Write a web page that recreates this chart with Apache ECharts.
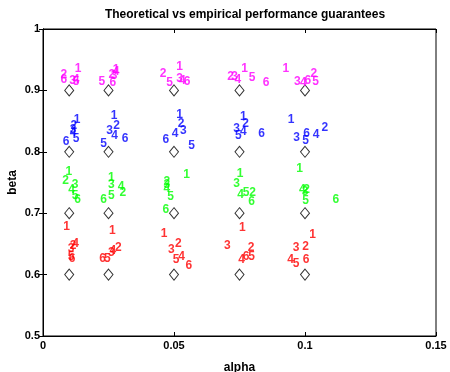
<!DOCTYPE html>
<html>
<head>
<meta charset="utf-8">
<script src="https://cdn.jsdelivr.net/npm/echarts@6/dist/echarts.min.js"></script>
<style>html,body{margin:0;padding:0;background:#fff;}#c{width:450px;height:372px;}</style>
</head>
<body>
<div id="c"></div>
<script>
// Theoretical guarantee grid (diamonds)
var alphas = [0.01, 0.025, 0.05, 0.075, 0.1];
var betas = [0.6, 0.7, 0.8, 0.9];
var xTicks = [0, 0.05, 0.1, 0.15];
var yTicks = [0.5, 0.6, 0.7, 0.8, 0.9, 1];

// Empirical results: [alpha, beta, label]
var beta09 = [
  [0.0134,0.9349,'1'],[0.0080,0.9259,'2'],[0.0113,0.9153,'3'],[0.0126,0.9169,'4'],[0.0126,0.9137,'5'],[0.0080,0.9178,'6'],
  [0.0279,0.9332,'1'],[0.0263,0.9251,'2'],[0.0271,0.9235,'3'],[0.0279,0.9300,'4'],[0.0225,0.9137,'5'],[0.0267,0.9121,'6'],
  [0.0521,0.9381,'1'],[0.0458,0.9267,'2'],[0.0521,0.9194,'3'],[0.0532,0.9161,'4'],[0.0483,0.9121,'5'],[0.0550,0.9145,'6'],
  [0.0769,0.9357,'1'],[0.0716,0.9226,'2'],[0.0731,0.9226,'3'],[0.0744,0.9178,'4'],[0.0798,0.9210,'5'],[0.0851,0.9121,'6'],
  [0.0927,0.9349,'1'],[0.1034,0.9267,'2'],[0.0971,0.9137,'3'],[0.0994,0.9121,'4'],[0.1040,0.9137,'5'],[0.1011,0.9153,'6']
];
var beta08 = [
  [0.0130,0.8518,'1'],[0.0118,0.8420,'2'],[0.0115,0.8355,'3'],[0.0115,0.8306,'4'],[0.0126,0.8208,'5'],[0.0088,0.8160,'6'],
  [0.0271,0.8583,'1'],[0.0281,0.8428,'2'],[0.0254,0.8347,'3'],[0.0273,0.8257,'4'],[0.0231,0.8135,'5'],[0.0313,0.8208,'6'],
  [0.0521,0.8599,'1'],[0.0527,0.8453,'2'],[0.0536,0.8339,'3'],[0.0504,0.8290,'4'],[0.0567,0.8094,'5'],[0.0469,0.8192,'6'],
  [0.0765,0.8575,'1'],[0.0773,0.8461,'2'],[0.0739,0.8371,'3'],[0.0765,0.8322,'4'],[0.0746,0.8257,'5'],[0.0834,0.8290,'6'],
  [0.0947,0.8518,'1'],[0.1076,0.8396,'2'],[0.0968,0.8233,'3'],[0.1042,0.8274,'4'],[0.1002,0.8176,'5'],[0.1006,0.8298,'6']
];
var beta07 = [
  [0.0099,0.7671,'1'],[0.0086,0.7524,'2'],[0.0122,0.7459,'3'],[0.0109,0.7378,'4'],[0.0122,0.7280,'5'],[0.0132,0.7215,'6'],
  [0.0261,0.7573,'1'],[0.0305,0.7329,'2'],[0.0261,0.7467,'3'],[0.0298,0.7435,'4'],[0.0261,0.7280,'5'],[0.0231,0.7223,'6'],
  [0.0548,0.7622,'1'],[0.0473,0.7508,'2'],[0.0473,0.7467,'3'],[0.0473,0.7402,'4'],[0.0487,0.7272,'5'],[0.0469,0.7060,'6'],
  [0.0752,0.7647,'1'],[0.0800,0.7337,'2'],[0.0739,0.7476,'3'],[0.0754,0.7296,'4'],[0.0775,0.7337,'5'],[0.0796,0.7191,'6'],
  [0.0979,0.7728,'1'],[0.1006,0.7386,'2'],[0.1000,0.7345,'3'],[0.0990,0.7378,'4'],[0.1002,0.7207,'5'],[0.1118,0.7215,'6']
];
var beta06 = [
  [0.0090,0.6775,'1'],[0.0115,0.6466,'2'],[0.0107,0.6417,'3'],[0.0124,0.6498,'4'],[0.0107,0.6287,'5'],[0.0111,0.6254,'6'],
  [0.0265,0.6718,'1'],[0.0288,0.6433,'2'],[0.0261,0.6352,'3'],[0.0267,0.6384,'4'],[0.0246,0.6254,'5'],[0.0227,0.6254,'6'],
  [0.0462,0.6661,'1'],[0.0517,0.6507,'2'],[0.0490,0.6401,'3'],[0.0529,0.6295,'4'],[0.0508,0.6246,'5'],[0.0557,0.6140,'6'],
  [0.0761,0.6759,'1'],[0.0794,0.6441,'2'],[0.0704,0.6466,'3'],[0.0758,0.6238,'4'],[0.0796,0.6287,'5'],[0.0775,0.6287,'6'],
  [0.1029,0.6645,'1'],[0.1002,0.6450,'2'],[0.0966,0.6441,'3'],[0.0945,0.6238,'4'],[0.0966,0.6173,'5'],[0.1004,0.6238,'6']
];

var diamonds = [];
alphas.forEach(function(a){ betas.forEach(function(b){ diamonds.push([a,b]); }); });

var font = 'Liberation Sans, Arial, sans-serif';
function labelSeries(data, color){
  return {
    type:'scatter', data:data, symbolSize:0, silent:true, z:5,
    label:{show:true, position:'inside', formatter:function(p){return p.data[2];},
      color:color, fontSize:12, fontWeight:'bold', fontFamily:font}
  };
}

var chart = echarts.init(document.getElementById('c'), null, {renderer:'canvas'});
chart.setOption({
  animation:false,
  backgroundColor:'#fff',
  title:{text:'Theoretical vs empirical performance guarantees', left:240, textAlign:'center', top:4,
    textStyle:{fontSize:12, fontWeight:'bold', color:'#000', fontFamily:font}},
  grid:{left:43, right:14, top:29, bottom:36, show:true, borderColor:'#000', borderWidth:1,
    containLabel:false, outerBoundsMode:'none'},
  xAxis:[{type:'value', min:xTicks[0], max:xTicks[xTicks.length-1], interval:0.05,
      name:'alpha', nameLocation:'middle', nameGap:26, nameMoveOverlap:false,
      nameTextStyle:{fontSize:12, fontWeight:'bold', color:'#000', fontFamily:font},
      axisLine:{lineStyle:{color:'#000'}}, axisTick:{inside:true, length:4, lineStyle:{color:'#000'}},
      axisLabel:{fontSize:11, fontWeight:'bold', color:'#000', fontFamily:font, margin:4},
      splitLine:{show:false}},
    {type:'value', position:'top', min:xTicks[0], max:xTicks[xTicks.length-1], interval:0.05,
      axisLine:{lineStyle:{color:'#000'}}, axisTick:{inside:true, length:4, lineStyle:{color:'#000'}},
      axisLabel:{show:false}, splitLine:{show:false}}],
  yAxis:[{type:'value', min:yTicks[0], max:yTicks[yTicks.length-1], interval:0.1,
      name:'beta', nameLocation:'middle', nameGap:24, nameRotate:90, nameMoveOverlap:false,
      nameTextStyle:{fontSize:12, fontWeight:'bold', color:'#000', fontFamily:font},
      axisLine:{lineStyle:{color:'#000'}}, axisTick:{inside:true, length:4, lineStyle:{color:'#000'}},
      axisLabel:{fontSize:11, fontWeight:'bold', color:'#000', fontFamily:font, margin:3,
        formatter:function(v){return String(Math.round(v*10)/10);}},
      splitLine:{show:false}},
    {type:'value', position:'right', min:yTicks[0], max:yTicks[yTicks.length-1], interval:0.1,
      axisLine:{lineStyle:{color:'#000'}}, axisTick:{inside:true, length:4, lineStyle:{color:'#000'}},
      axisLabel:{show:false}, splitLine:{show:false}}],
  series:[
    {type:'scatter', data:diamonds, symbol:'diamond', symbolSize:[9,11], z:3,
      itemStyle:{color:'#fff', borderColor:'#000', borderWidth:1}},
    labelSeries(beta06, '#ff0000'),
    labelSeries(beta07, '#00ff00'),
    labelSeries(beta08, '#0000ff'),
    labelSeries(beta09, '#ff00ff')
  ]
});
</script>
</body>
</html>
